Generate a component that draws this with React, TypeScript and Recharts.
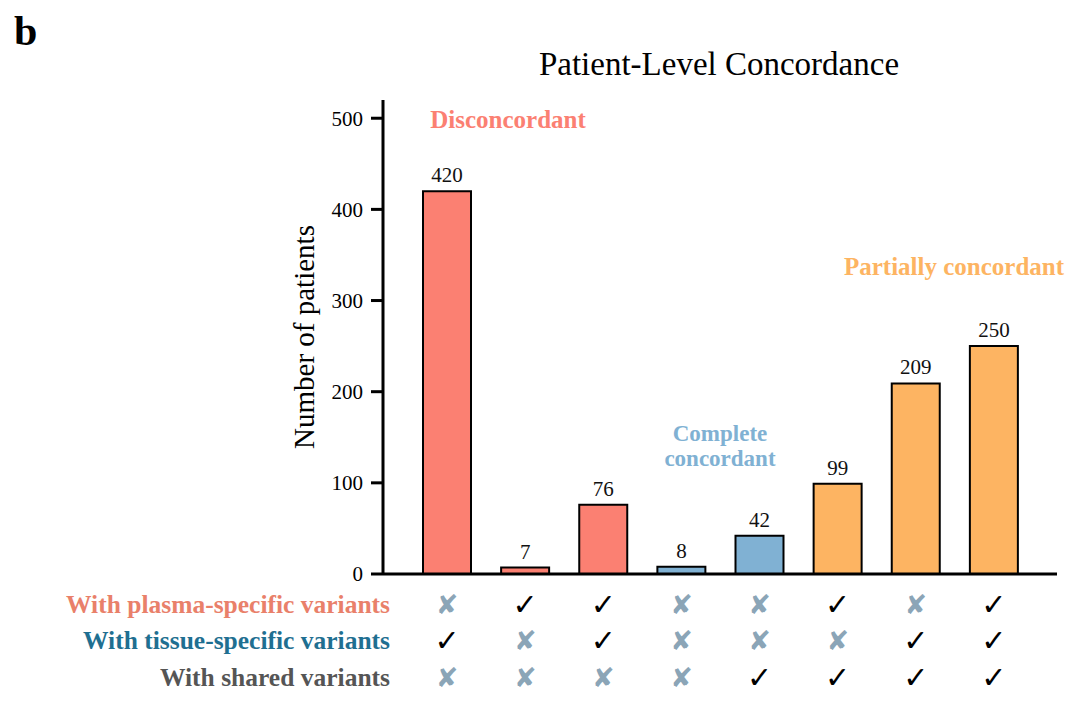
import React from 'react';
import { BarChart, Bar, XAxis, YAxis, Cell, LabelList } from 'recharts';

// one bar per combination of variant types
const categories = ['P-T+S-', 'P+T-S-', 'P+T+S-', 'P-T-S-', 'P-T-S+', 'P+T-S+', 'P-T+S+', 'P+T+S+'];
const patients = [420, 7, 76, 8, 42, 99, 209, 250];
const groups = ['dis', 'dis', 'dis', 'comp', 'comp', 'part', 'part', 'part'];

// matrix below the axis: 1 = check, 0 = cross
const plasmaSpecific = [0, 1, 1, 0, 0, 1, 0, 1];
const tissueSpecific = [1, 0, 1, 0, 0, 0, 1, 1];
const sharedVariants = [0, 0, 0, 0, 1, 1, 1, 1];
const matrixRows = [plasmaSpecific, tissueSpecific, sharedVariants];
const rowLabels = ['With plasma-specific variants', 'With tissue-specific variants', 'With shared variants'];

const yTicks = [0, 100, 200, 300, 400, 500];

const groupColor: Record<string, string> = {
  dis: '#FB8072',
  comp: '#80B1D3',
  part: '#FDB462',
};
const rowColors = ['#E9806A', '#1F6F91', '#555555'];

const data = categories.map((c, i) => ({ name: c, value: patients[i], group: groups[i] }));

const SERIF = '"Liberation Serif", "Times New Roman", serif';
const SYMBOL = '"DejaVu Sans", sans-serif';

const rowOffsets = [30, 66, 103];

const MatrixTick = (props: any) => {
  const { x, y, payload } = props;
  const i = payload.index;
  return (
    <g>
      {matrixRows.map((row, r) => (
        <text
          key={r}
          x={x}
          y={y + rowOffsets[r]}
          textAnchor="middle"
          dominantBaseline="central"
          fontFamily={SYMBOL}
          fontSize={row[i] ? 30 : 27}
          fontWeight="bold"
          fill={row[i] ? '#000' : '#8BA5B7'}
        >
          {row[i] ? '\u2713' : '\u2718'}
        </text>
      ))}
    </g>
  );
};

export default function App() {
  return (
    <div style={{ position: 'absolute', left: 0, top: 0, width: 1080, height: 706, background: '#fff' }}>
      <BarChart
        width={1080}
        height={706}
        data={data}
        margin={{ top: 100, right: 23, bottom: 0, left: 0 }}
        barSize={48}
      >
        <XAxis
          dataKey="name"
          height={132}
          padding={{ left: 25, right: 24 }}
          axisLine={{ stroke: '#000', strokeWidth: 3 }}
          tickLine={false}
          tickSize={0}
          tickMargin={0}
          interval={0}
          tick={<MatrixTick />}
        />
        <YAxis
          width={383}
          domain={[0, 520]}
          ticks={yTicks}
          allowDataOverflow
          axisLine={{ stroke: '#000', strokeWidth: 3 }}
          tickLine={{ stroke: '#000', strokeWidth: 3 }}
          tickSize={12}
          tickMargin={8}
          tick={{ fill: '#000', fontSize: 21, fontFamily: SERIF }}
        />
        <Bar dataKey="value" stroke="#000" strokeWidth={2} isAnimationActive={false}>
          {data.map((d, i) => (
            <Cell key={i} fill={groupColor[d.group]} />
          ))}
          <LabelList dataKey="value" position="top" offset={9} fill="#111" fontSize={21} fontFamily={SERIF} />
        </Bar>
      </BarChart>

      <svg width={1080} height={706} style={{ position: 'absolute', left: 0, top: 0, pointerEvents: 'none' }}>
        <text x={14} y={45} fontFamily={SERIF} fontSize={42} fontWeight="bold" fill="#000">b</text>
        <text x={719} y={75} textAnchor="middle" fontFamily={SERIF} fontSize={33} fill="#000">
          Patient-Level Concordance
        </text>
        <text
          x={314}
          y={337}
          textAnchor="middle"
          transform="rotate(-90 314 337)"
          fontFamily={SERIF}
          fontSize={29}
          fill="#000"
        >
          Number of patients
        </text>
        <text x={508} y={128} textAnchor="middle" fontFamily={SERIF} fontSize={25} fontWeight="bold" fill={groupColor.dis}>
          Disconcordant
        </text>
        <text x={720} y={441} textAnchor="middle" fontFamily={SERIF} fontSize={23} fontWeight="bold" fill={groupColor.comp}>
          Complete
        </text>
        <text x={720} y={466} textAnchor="middle" fontFamily={SERIF} fontSize={23} fontWeight="bold" fill={groupColor.comp}>
          concordant
        </text>
        <text x={954} y={275} textAnchor="middle" fontFamily={SERIF} fontSize={25} fontWeight="bold" fill={groupColor.part}>
          Partially concordant
        </text>
        {rowLabels.map((label, r) => (
          <text
            key={label}
            x={390}
            y={574 + rowOffsets[r]}
            textAnchor="end"
            dominantBaseline="central"
            fontFamily={SERIF}
            fontSize={25.5}
            fontWeight="bold"
            fill={rowColors[r]}
          >
            {label}
          </text>
        ))}
      </svg>
    </div>
  );
}
